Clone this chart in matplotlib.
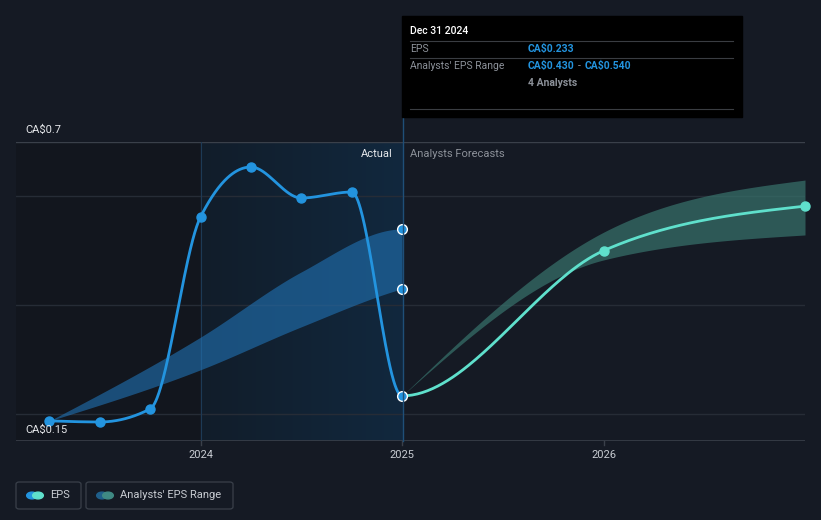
import numpy as np
import matplotlib
matplotlib.use("Agg")
import matplotlib.pyplot as plt
from matplotlib.patches import FancyBboxPatch, Rectangle
from matplotlib.colors import LinearSegmentedColormap

plt.rcParams['font.family'] = ['Roboto', 'DejaVu Sans']

# data (decimal years, CA$)
past_x = [2023.25, 2023.5, 2023.75, 2024.0, 2024.25, 2024.5, 2024.75, 2025.0]
eps_past = [0.187, 0.185, 0.209, 0.562, 0.654, 0.597, 0.608, 0.233]

band_x = [2023.25, 2024.0, 2024.5, 2025.0]
range_hi_past = [0.187, 0.341, 0.461, 0.540]
range_lo_past = [0.187, 0.281, 0.360, 0.430]

fc_x = [2025.0, 2026.0, 2027.0]
eps_fc = [0.233, 0.500, 0.582]
range_hi_fc = [0.233, 0.534, 0.630]
range_lo_fc = [0.233, 0.483, 0.529]

y_labels = ["CA$0.15", "CA$0.7"]
x_ticks = [2024, 2025, 2026]

BG = "#151a24"
BLUE = "#2394df"
TEAL = "#5fe0cc"
W, H = 821, 520


def monotone(xs, ys, n=80):
    # d3 curveMonotoneX style smoothing
    xs = np.asarray(xs, float)
    ys = np.asarray(ys, float)
    h = np.diff(xs)
    s = np.diff(ys) / h
    m = np.zeros(len(xs))
    for i in range(1, len(xs) - 1):
        p = (s[i - 1] * h[i] + s[i] * h[i - 1]) / (h[i - 1] + h[i])
        m[i] = (np.sign(s[i - 1]) + np.sign(s[i])) * min(abs(s[i - 1]), abs(s[i]), 0.5 * abs(p))
    if len(xs) > 2:
        m[0] = (3 * s[0] - m[1]) / 2
        m[-1] = (3 * s[-1] - m[-2]) / 2
    else:
        m[0] = m[-1] = s[0]
    ox, oy = [], []
    for i in range(len(xs) - 1):
        t = np.linspace(0, 1, n)
        h00 = 2 * t**3 - 3 * t**2 + 1
        h10 = t**3 - 2 * t**2 + t
        h01 = -2 * t**3 + 3 * t**2
        h11 = t**3 - t**2
        ox.extend(xs[i] + t * h[i])
        oy.extend(h00 * ys[i] + h10 * h[i] * m[i] + h01 * ys[i + 1] + h11 * h[i] * m[i + 1])
    return np.array(ox), np.array(oy)


def fx(px):
    return px / W


def fy(py):
    return 1 - py / H


fig = plt.figure(figsize=(W / 100, H / 100), dpi=100, facecolor=BG)
ax = fig.add_axes([fx(16), fy(441), fx(805) - fx(16), fy(142) - fy(441)])
ax.set_facecolor(BG)
x0 = 2024 - 184.5 / 201.5
ax.set_xlim(x0, 2027.0)
ax.set_ylim(0.15, 0.7)
for sp in ax.spines.values():
    sp.set_visible(False)
ax.set_xticks([])
ax.set_yticks([])

# shaded regions
ax.add_patch(Rectangle((x0, 0.15), 2024 - x0, 0.55, color="#12161e", zorder=0, lw=0))
grad = np.linspace(0, 1, 256).reshape(1, -1)
cm = LinearSegmentedColormap.from_list("g", ["#111d2a", "#12283e"])
ax.imshow(grad, extent=[2024, 2025, 0.15, 0.7], aspect="auto", cmap=cm, zorder=0.5)

# grid
for g in [0.2, 0.4, 0.6]:
    ax.axhline(g, color="#262c36", lw=1, zorder=1)
ax.axhline(0.7, color="#3a404a", lw=1, zorder=1)
ax.axhline(0.15, color="#3a404a", lw=1.2, zorder=1)
ax.axvline(2024, color="#1d3a55", lw=0.8, zorder=1)
fig.lines.append(plt.Line2D([fx(402.5), fx(402.5)], [fy(441), fy(117)], transform=fig.transFigure,
                            color="#1f4f78", lw=1, zorder=1))
for t in x_ticks:
    ax.plot([t, t], [0.15, 0.15 - 0.008], color="#3a404a", lw=1, clip_on=False)
    ax.text(t, 0.15 - 0.025, str(t), color="#c8ccd2", fontsize=8, ha="center", va="center")

# past range band (curve continues into forecast, drawn up to 2025)
bx, bh = monotone(band_x + fc_x[1:], range_hi_past + range_hi_fc[1:])
_, bl = monotone(band_x + fc_x[1:], range_lo_past + range_lo_fc[1:])
keep = bx <= 2025.0
ax.fill_between(bx[keep], bl[keep], bh[keep], color="#2173b5", alpha=0.6, lw=0, zorder=2)

# forecast band
fxs, fh = monotone(fc_x, range_hi_fc)
_, fl = monotone(fc_x, range_lo_fc)
ax.fill_between(fxs, fl, fh, color="#3a7a72", alpha=0.65, lw=0, zorder=2)

# EPS line: one smooth series, coloured by actual / forecast
lx, ly = monotone(past_x + fc_x[1:], eps_past + eps_fc[1:])
ax.plot(lx[lx <= 2025.0], ly[lx <= 2025.0], color=BLUE, lw=2, zorder=3, solid_capstyle="round")
ax.plot(lx[lx >= 2025.0], ly[lx >= 2025.0], color=TEAL, lw=2, zorder=3)
ax.plot(past_x[:-1], eps_past[:-1], "o", color=BLUE, ms=6.5, zorder=4)
ax.plot(fc_x[1:], eps_fc[1:], "o", color=TEAL, ms=6.5, zorder=4, clip_on=False)
ax.plot([2025] * 3, [eps_past[-1], range_lo_past[-1], range_hi_past[-1]], "o",
        color=BLUE, ms=7, mec="white", mew=1, zorder=5)

# labels
ax.text(2025 - 0.045, 0.678, "Actual", color="#e6e8eb", fontsize=8, ha="right", va="center")
ax.text(2025 + 0.04, 0.678, "Analysts Forecasts", color="#8c9199", fontsize=8, ha="left", va="center")
fig.text(fx(25), fy(130), y_labels[1], color="#e6e8eb", fontsize=8, va="center")
fig.text(fx(25), fy(430), y_labels[0], color="#e6e8eb", fontsize=8, va="center")

# tooltip
fig.patches.append(Rectangle((fx(402), fy(117)), fx(742) - fx(402), fy(16) - fy(117),
                             transform=fig.transFigure, color="#000000", zorder=5))
for yy in [41, 58, 109]:
    fig.lines.append(plt.Line2D([fx(410), fx(733)], [fy(yy), fy(yy)], transform=fig.transFigure,
                                color="#3a3d42", lw=0.8, zorder=6))
fig.text(fx(410), fy(31), "Dec 31 2024", color="white", fontsize=7.5, fontweight="medium", va="center", zorder=7)
fig.text(fx(410), fy(49), "EPS", color="#8c9199", fontsize=7.5, va="center", zorder=7)
fig.text(fx(528), fy(49), "CA$0.233", color=BLUE, fontsize=7.5, fontweight="bold", va="center", zorder=7)
fig.text(fx(410), fy(66), "Analysts' EPS Range", color="#8c9199", fontsize=7.5, va="center", zorder=7)
fig.text(fx(528), fy(66), "CA$0.430", color=BLUE, fontsize=7.5, fontweight="bold", va="center", zorder=7)
fig.text(fx(578), fy(66), "-", color="#8c9199", fontsize=7.5, va="center", zorder=7)
fig.text(fx(585), fy(66), "CA$0.540", color=BLUE, fontsize=7.5, fontweight="bold", va="center", zorder=7)
fig.text(fx(528), fy(83), "4 Analysts", color="#8c9199", fontsize=7.5, fontweight="bold", va="center", zorder=7)

# legend
for (l, r) in [(16, 81), (86, 233)]:
    fig.patches.append(FancyBboxPatch((fx(l), fy(509)), fx(r) - fx(l), fy(482) - fy(509),
                                      boxstyle="round,pad=0,rounding_size=0.004",
                                      transform=fig.transFigure, fc="none", ec="#3a404a", lw=0.9))
fig.patches.append(plt.Circle((fx(32), fy(495.5)), 0.0065, transform=fig.transFigure, color=BLUE))
fig.patches.append(plt.Circle((fx(38), fy(495.5)), 0.0065, transform=fig.transFigure, color=TEAL))
fig.text(fx(50), fy(495.5), "EPS", color="#c8ccd2", fontsize=8, va="center")
fig.patches.append(plt.Circle((fx(102), fy(495.5)), 0.0065, transform=fig.transFigure, color="#1f5f8b"))
fig.patches.append(plt.Circle((fx(108), fy(495.5)), 0.0065, transform=fig.transFigure, color="#3f8a84"))
fig.text(fx(120), fy(495.5), "Analysts' EPS Range", color="#c8ccd2", fontsize=8, va="center")

fig.savefig("out.png", dpi=100, facecolor=BG)
